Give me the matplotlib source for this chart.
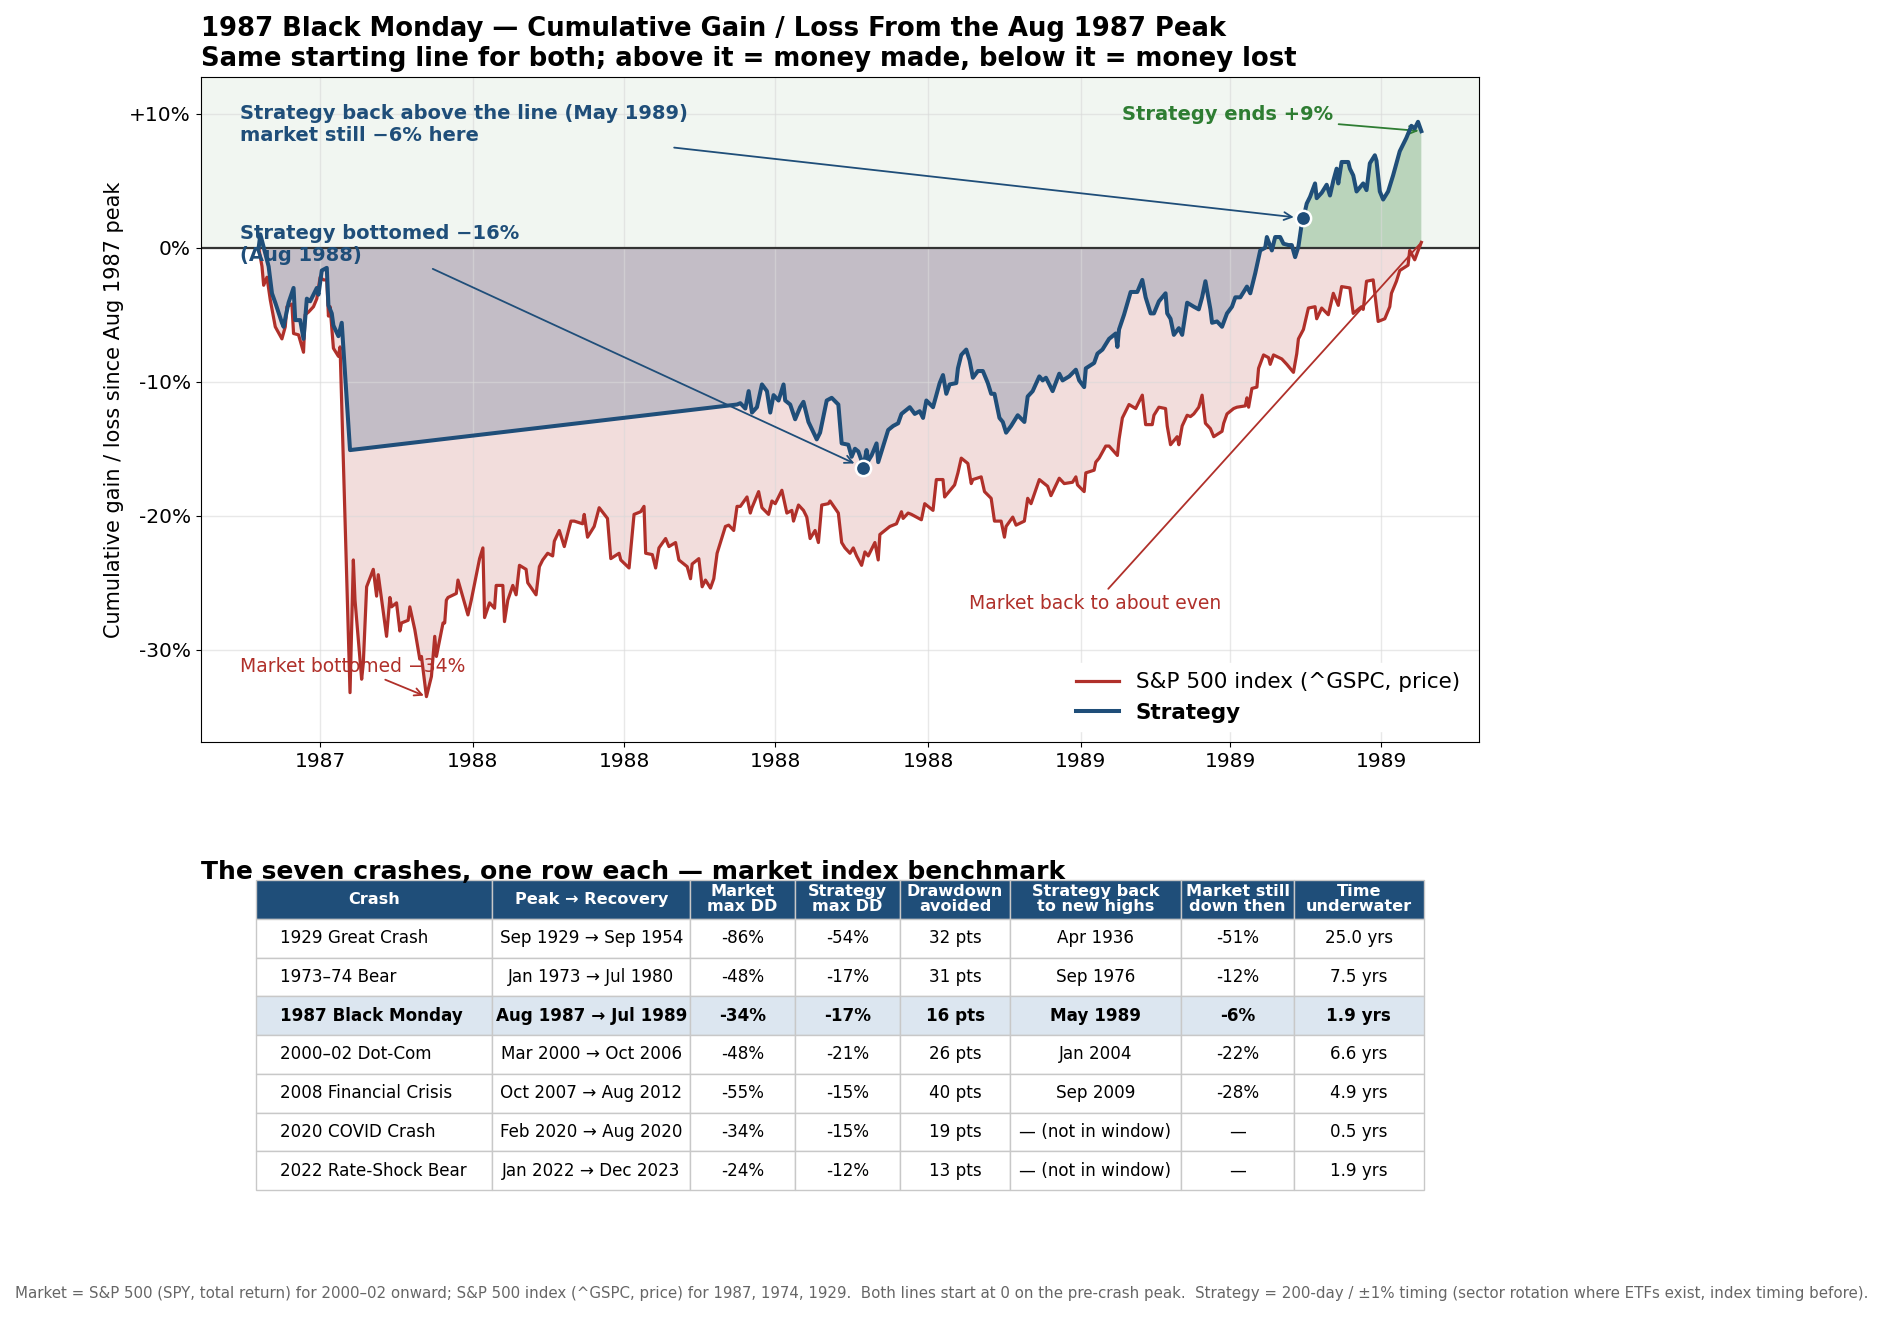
import pandas as pd
import numpy as np
import matplotlib
matplotlib.use("Agg")
import matplotlib.pyplot as plt
import matplotlib.dates as mdates
from matplotlib.ticker import FuncFormatter, MultipleLocator
from matplotlib.table import Table

NAVY = '#1f4e79'
RED = '#b0302a'
GREEN = '#2e7d32'

# market (S&P 500 price) cumulative % from Aug 1987 peak
mkt_dates = [
    '1987-08-25', '1987-08-27', '1987-08-28', '1987-08-30', '1987-09-01', '1987-09-04', '1987-09-08', '1987-09-10',
    '1987-09-11', '1987-09-14', '1987-09-15', '1987-09-18', '1987-09-21', '1987-09-22', '1987-09-24', '1987-09-27',
    '1987-09-29', '1987-10-01', '1987-10-03', '1987-10-05', '1987-10-06', '1987-10-07', '1987-10-09', '1987-10-12',
    '1987-10-13', '1987-10-19', '1987-10-21', '1987-10-22', '1987-10-26', '1987-10-27', '1987-10-29', '1987-11-02',
    '1987-11-04', '1987-11-05', '1987-11-10', '1987-11-12', '1987-11-13', '1987-11-16', '1987-11-18', '1987-11-19',
    '1987-11-23', '1987-11-24', '1987-11-27', '1987-11-30', '1987-12-01', '1987-12-04', '1987-12-07', '1987-12-09',
    '1987-12-10', '1987-12-14', '1987-12-15', '1987-12-16', '1987-12-17', '1987-12-22', '1987-12-23', '1987-12-29',
    '1987-12-31', '1988-01-05', '1988-01-07', '1988-01-08', '1988-01-11', '1988-01-14', '1988-01-15', '1988-01-19',
    '1988-01-20', '1988-01-22', '1988-01-25', '1988-01-27', '1988-01-29', '1988-02-02', '1988-02-03', '1988-02-08',
    '1988-02-10', '1988-02-12', '1988-02-15', '1988-02-18', '1988-02-19', '1988-02-22', '1988-02-25', '1988-02-29',
    '1988-03-02', '1988-03-07', '1988-03-08', '1988-03-10', '1988-03-14', '1988-03-17', '1988-03-22', '1988-03-24',
    '1988-03-29', '1988-03-30', '1988-04-04', '1988-04-07', '1988-04-11', '1988-04-13', '1988-04-14', '1988-04-18',
    '1988-04-20', '1988-04-22', '1988-04-26', '1988-04-28', '1988-05-02', '1988-05-04', '1988-05-09', '1988-05-11',
    '1988-05-12', '1988-05-16', '1988-05-18', '1988-05-20', '1988-05-23', '1988-05-25', '1988-05-27', '1988-06-01',
    '1988-06-03', '1988-06-06', '1988-06-08', '1988-06-10', '1988-06-14', '1988-06-16', '1988-06-17', '1988-06-21',
    '1988-06-23', '1988-06-27', '1988-06-29', '1988-07-01', '1988-07-05', '1988-07-08', '1988-07-11', '1988-07-12',
    '1988-07-15', '1988-07-18', '1988-07-20', '1988-07-22', '1988-07-25', '1988-07-27', '1988-07-29', '1988-08-02',
    '1988-08-03', '1988-08-08', '1988-08-10', '1988-08-12', '1988-08-15', '1988-08-17', '1988-08-19', '1988-08-22',
    '1988-08-24', '1988-08-26', '1988-08-30', '1988-09-01', '1988-09-02', '1988-09-08', '1988-09-12', '1988-09-15',
    '1988-09-16', '1988-09-19', '1988-09-21', '1988-09-27', '1988-09-29', '1988-10-04', '1988-10-06', '1988-10-10',
    '1988-10-11', '1988-10-17', '1988-10-19', '1988-10-21', '1988-10-25', '1988-10-27', '1988-10-28', '1988-11-02',
    '1988-11-04', '1988-11-08', '1988-11-10', '1988-11-14', '1988-11-16', '1988-11-17', '1988-11-21', '1988-11-23',
    '1988-11-28', '1988-11-30', '1988-12-02', '1988-12-07', '1988-12-12', '1988-12-14', '1988-12-19', '1988-12-22',
    '1988-12-27', '1988-12-29', '1988-12-30', '1989-01-03', '1989-01-04', '1989-01-09', '1989-01-10', '1989-01-12',
    '1989-01-16', '1989-01-18', '1989-01-23', '1989-01-24', '1989-01-26', '1989-01-30', '1989-02-03', '1989-02-07',
    '1989-02-09', '1989-02-13', '1989-02-14', '1989-02-17', '1989-02-21', '1989-02-22', '1989-02-24', '1989-02-28',
    '1989-03-01', '1989-03-03', '1989-03-06', '1989-03-08', '1989-03-10', '1989-03-13', '1989-03-15', '1989-03-17',
    '1989-03-20', '1989-03-22', '1989-03-27', '1989-03-28', '1989-03-30', '1989-04-03', '1989-04-05', '1989-04-10',
    '1989-04-11', '1989-04-12', '1989-04-14', '1989-04-17', '1989-04-18', '1989-04-21', '1989-04-24', '1989-04-25',
    '1989-04-27', '1989-05-02', '1989-05-05', '1989-05-09', '1989-05-11', '1989-05-12', '1989-05-15', '1989-05-18',
    '1989-05-22', '1989-05-23', '1989-05-26', '1989-05-30', '1989-06-02', '1989-06-05', '1989-06-07', '1989-06-12',
    '1989-06-14', '1989-06-19', '1989-06-20', '1989-06-22', '1989-06-26', '1989-06-27', '1989-06-29', '1989-07-03',
    '1989-07-06', '1989-07-07', '1989-07-10', '1989-07-12', '1989-07-17', '1989-07-18', '1989-07-21', '1989-07-24',
    '1989-07-25',
]
mkt_pct = [
    0.0, -1.4, -2.8, -2.2, -3.9, -5.9, -6.8, -5.9,
    -4.4, -4.2, -6.4, -6.5, -7.8, -5.0, -4.8, -4.4,
    -3.8, -2.2, -2.4, -2.4, -5.1, -4.4, -7.5, -8.1,
    -7.4, -33.2, -23.3, -26.3, -32.2, -31.0, -25.3, -24.0,
    -26.0, -24.4, -29.0, -26.1, -26.8, -26.5, -28.6, -28.0,
    -27.8, -26.8, -28.5, -30.7, -30.5, -33.5, -32.0, -29.0,
    -30.5, -28.0, -28.0, -26.3, -26.1, -25.8, -24.8, -27.4,
    -26.3, -23.2, -22.4, -27.6, -26.5, -26.9, -25.2, -25.2,
    -27.9, -26.3, -25.2, -25.9, -23.7, -24.0, -25.0, -25.9,
    -23.8, -23.3, -22.8, -23.0, -21.9, -21.1, -22.3, -20.4,
    -20.4, -20.6, -19.9, -21.6, -20.8, -19.4, -20.2, -23.2,
    -22.8, -23.3, -23.9, -19.9, -19.7, -19.3, -22.8, -22.9,
    -23.9, -22.4, -21.7, -22.3, -22.0, -23.3, -23.8, -24.7,
    -23.6, -23.2, -25.3, -24.8, -25.4, -24.7, -22.8, -20.8,
    -20.7, -21.1, -19.3, -19.3, -18.6, -19.8, -19.4, -18.2,
    -19.4, -19.9, -18.9, -19.1, -18.1, -19.8, -19.6, -20.4,
    -19.2, -19.6, -20.1, -21.7, -21.1, -22.0, -19.2, -19.1,
    -18.9, -19.8, -22.0, -22.4, -22.8, -22.4, -23.0, -23.7,
    -22.7, -23.0, -22.0, -23.3, -21.4, -20.8, -20.6, -19.7,
    -20.2, -19.8, -19.9, -20.3, -19.1, -19.6, -17.3, -17.3,
    -18.6, -17.7, -16.8, -15.7, -16.1, -17.6, -17.3, -17.1,
    -18.2, -18.7, -20.4, -20.4, -21.6, -20.8, -20.1, -20.7,
    -20.4, -18.7, -19.1, -17.3, -17.8, -18.5, -17.2, -17.6,
    -17.5, -17.1, -17.7, -18.2, -16.8, -16.6, -16.0, -15.7,
    -14.8, -14.8, -15.5, -14.3, -12.7, -11.7, -12.0, -11.0,
    -13.2, -13.2, -12.5, -11.9, -12.0, -13.3, -14.7, -14.1,
    -14.7, -13.3, -12.5, -12.6, -12.4, -11.9, -11.0, -13.1,
    -13.5, -14.1, -13.7, -13.1, -12.4, -12.0, -11.9, -11.8,
    -11.2, -11.9, -10.5, -10.4, -9.0, -8.0, -8.2, -8.7,
    -8.0, -8.3, -8.7, -9.3, -7.9, -6.8, -6.1, -4.5,
    -4.4, -5.3, -4.5, -5.0, -3.4, -4.3, -2.9, -3.0,
    -4.9, -4.4, -4.6, -2.5, -2.4, -3.4, -5.5, -5.3,
    -4.4, -3.4, -2.5, -1.7, -1.3, -0.2, -0.9, 0.1,
    0.4,
]

# strategy cumulative % (no points between Oct 19 1987 and Jun 8 1988)
strat_dates = [
    '1987-08-25', '1987-08-26', '1987-08-31', '1987-09-02', '1987-09-04', '1987-09-08', '1987-09-09', '1987-09-12',
    '1987-09-15', '1987-09-16', '1987-09-19', '1987-09-21', '1987-09-23', '1987-09-25', '1987-09-29', '1987-09-30',
    '1987-10-02', '1987-10-05', '1987-10-06', '1987-10-08', '1987-10-09', '1987-10-12', '1987-10-14', '1987-10-19',
    '1988-06-08', '1988-06-10', '1988-06-13', '1988-06-15', '1988-06-17', '1988-06-20', '1988-06-23', '1988-06-26',
    '1988-06-28', '1988-06-30', '1988-07-03', '1988-07-06', '1988-07-07', '1988-07-10', '1988-07-13', '1988-07-16',
    '1988-07-18', '1988-07-21', '1988-07-26', '1988-07-28', '1988-08-01', '1988-08-04', '1988-08-08', '1988-08-10',
    '1988-08-14', '1988-08-16', '1988-08-18', '1988-08-20', '1988-08-22', '1988-08-23', '1988-08-25', '1988-08-26',
    '1988-08-28', '1988-08-31', '1988-09-01', '1988-09-07', '1988-09-10', '1988-09-13', '1988-09-15', '1988-09-18',
    '1988-09-20', '1988-09-23', '1988-09-26', '1988-09-28', '1988-09-30', '1988-10-04', '1988-10-08', '1988-10-10',
    '1988-10-12', '1988-10-14', '1988-10-18', '1988-10-19', '1988-10-21', '1988-10-24', '1988-10-26', '1988-10-28',
    '1988-10-31', '1988-11-03', '1988-11-06', '1988-11-08', '1988-11-10', '1988-11-13', '1988-11-15', '1988-11-17',
    '1988-11-20', '1988-11-24', '1988-11-28', '1988-11-30', '1988-12-03', '1988-12-07', '1988-12-09', '1988-12-11',
    '1988-12-15', '1988-12-19', '1988-12-21', '1988-12-25', '1988-12-29', '1988-12-31', '1989-01-03', '1989-01-04',
    '1989-01-09', '1989-01-11', '1989-01-14', '1989-01-18', '1989-01-22', '1989-01-23', '1989-01-24', '1989-01-27',
    '1989-01-31', '1989-02-04', '1989-02-07', '1989-02-09', '1989-02-12', '1989-02-14', '1989-02-17', '1989-02-21',
    '1989-02-22', '1989-02-24', '1989-02-26', '1989-03-01', '1989-03-03', '1989-03-06', '1989-03-10', '1989-03-13',
    '1989-03-15', '1989-03-17', '1989-03-20', '1989-03-21', '1989-03-24', '1989-03-27', '1989-03-30', '1989-04-02',
    '1989-04-04', '1989-04-07', '1989-04-11', '1989-04-13', '1989-04-16', '1989-04-19', '1989-04-22', '1989-04-23',
    '1989-04-26', '1989-04-28', '1989-05-01', '1989-05-03', '1989-05-06', '1989-05-08', '1989-05-10', '1989-05-12',
    '1989-05-14', '1989-05-15', '1989-05-17', '1989-05-19', '1989-05-22', '1989-05-23', '1989-05-26', '1989-05-29',
    '1989-05-31', '1989-06-02', '1989-06-04', '1989-06-05', '1989-06-07', '1989-06-11', '1989-06-12', '1989-06-14',
    '1989-06-16', '1989-06-18', '1989-06-20', '1989-06-22', '1989-06-24', '1989-06-27', '1989-06-28', '1989-06-30',
    '1989-07-02', '1989-07-05', '1989-07-08', '1989-07-12', '1989-07-14', '1989-07-16', '1989-07-19', '1989-07-21',
    '1989-07-23', '1989-07-25',
]
strat_pct = [
    0.0, 1.0, -1.4, -3.4, -4.1, -5.6, -5.9, -4.1,
    -3.0, -5.4, -5.4, -6.8, -3.8, -4.0, -3.0, -3.5,
    -1.7, -1.5, -4.3, -4.9, -5.8, -6.6, -5.6, -15.1,
    -11.7, -11.6, -12.0, -10.7, -12.3, -11.9, -10.2, -10.7,
    -12.3, -11.0, -11.4, -10.2, -11.4, -11.7, -12.8, -11.9,
    -11.5, -13.0, -14.3, -13.8, -11.4, -11.2, -11.7, -14.6,
    -14.7, -15.6, -15.0, -15.2, -15.9, -16.4, -15.1, -15.9,
    -15.5, -14.6, -16.0, -13.6, -13.3, -13.1, -12.4, -12.1,
    -11.9, -12.4, -12.2, -12.7, -11.4, -11.9, -10.1, -9.5,
    -10.9, -10.2, -10.1, -9.0, -8.0, -7.6, -8.4, -9.7,
    -9.2, -9.2, -10.1, -10.9, -10.9, -12.7, -13.0, -13.8,
    -13.3, -12.5, -13.0, -11.1, -10.7, -9.6, -9.9, -9.7,
    -10.7, -9.4, -9.9, -9.6, -9.1, -9.9, -10.4, -9.0,
    -8.6, -7.9, -7.6, -6.8, -6.4, -7.4, -6.1, -5.0,
    -3.3, -3.3, -2.4, -3.7, -4.9, -4.9, -4.0, -3.4,
    -4.9, -5.3, -6.5, -6.0, -6.5, -4.1, -4.4, -4.6,
    -3.7, -2.5, -4.6, -5.6, -5.5, -5.9, -4.9, -4.4,
    -3.7, -3.7, -2.9, -3.4, -1.9, -0.2, 0.0, 0.8,
    -0.2, 0.8, 0.8, 0.3, 0.2, 0.2, -0.7, 0.1,
    1.8, 2.2, 3.3, 3.8, 4.8, 3.7, 4.1, 4.7,
    3.9, 5.0, 5.9, 4.8, 6.4, 6.4, 5.9, 5.4,
    4.2, 4.5, 4.8, 4.3, 6.3, 6.9, 6.5, 4.2,
    3.6, 4.2, 5.4, 7.2, 7.7, 8.2, 9.1, 8.9,
    9.4, 8.7,
]
cross_date = '1989-05-15'   # strategy back above the start line

# table of the seven crashes
crash_names = ['1929 Great Crash', '1973–74 Bear', '1987 Black Monday', '2000–02 Dot-Com',
               '2008 Financial Crisis', '2020 COVID Crash', '2022 Rate-Shock Bear']
peak_recovery = ['Sep 1929 → Sep 1954', 'Jan 1973 → Jul 1980', 'Aug 1987 → Jul 1989', 'Mar 2000 → Oct 2006',
                 'Oct 2007 → Aug 2012', 'Feb 2020 → Aug 2020', 'Jan 2022 → Dec 2023']
market_max_dd = [-86, -48, -34, -48, -55, -34, -24]
strategy_max_dd = [-54, -17, -17, -21, -15, -15, -12]
dd_avoided = [32, 31, 16, 26, 40, 19, 13]
strategy_back = ['Apr 1936', 'Sep 1976', 'May 1989', 'Jan 2004', 'Sep 2009',
                 '— (not in window)', '— (not in window)']
market_then = [-51, -12, -6, -22, -28, None, None]
years_underwater = [25.0, 7.5, 1.9, 6.6, 4.9, 0.5, 1.9]
col_headers = ['Crash', 'Peak → Recovery', 'Market\nmax DD', 'Strategy\nmax DD', 'Drawdown\navoided',
               'Strategy back\nto new highs', 'Market still\ndown then', 'Time\nunderwater']
highlight_row = 2

md = pd.to_datetime(mkt_dates)
mv = np.array(mkt_pct)
sd = pd.to_datetime(strat_dates)
sv = np.array(strat_pct)

fig = plt.figure(figsize=(18.83, 13.19), dpi=100)
ax = fig.add_axes([0.1065, 0.4373, 0.6792, 0.5044])

# shading: gains zone, market under water, strategy under / above water
ax.axhspan(0, 20, color=GREEN, alpha=0.065, lw=0, zorder=0)
ax.fill_between(md, mv, 0, color=RED, alpha=0.16, lw=0, zorder=1)
ax.fill_between(sd, sv, 0, where=sv <= 0, interpolate=True, color=NAVY, alpha=0.22, lw=0, zorder=1)
ax.fill_between(sd, sv, 0, where=sv >= 0, interpolate=True, color=GREEN, alpha=0.28, lw=0, zorder=1)

ax.plot(md, mv, color=RED, lw=2.3, label='S&P 500 index (^GSPC, price)', zorder=3)
ax.plot(sd, sv, color=NAVY, lw=2.9, label='Strategy', zorder=4)
ax.axhline(0, color='#333333', lw=1.6, zorder=2)
ax.grid(True, color='#d9d9d9', lw=1.0, alpha=0.6)

i_low = int(np.argmin(sv))
i_cross = strat_dates.index(cross_date)
i_mlow = int(np.argmin(mv))
for i in (i_low, i_cross):
    ax.plot(sd[i], sv[i], 'o', color=NAVY, ms=11, mec='white', mew=1.8, zorder=6)

arrow_navy = dict(arrowstyle='->', color=NAVY, lw=1.3)
ax.annotate('Strategy back above the line (May 1989)\nmarket still \u22126% here',
            xy=(sd[i_cross], sv[i_cross]), xytext=(0.031, 0.960), textcoords='axes fraction',
            ha='left', va='top', fontsize=14, fontweight='bold', color=NAVY,
            arrowprops=dict(arrow_navy, shrinkB=7))
ax.annotate('Strategy bottomed \u221216%\n(Aug 1988)',
            xy=(sd[i_low], sv[i_low]), xytext=(0.031, 0.779), textcoords='axes fraction',
            ha='left', va='top', fontsize=14, fontweight='bold', color=NAVY,
            arrowprops=dict(arrow_navy, shrinkB=7))
ax.annotate('Strategy ends +9%', xy=(sd[-1], sv[-1]), xytext=(0.803, 0.943), textcoords='axes fraction',
            ha='center', va='center', fontsize=14, fontweight='bold', color=GREEN,
            arrowprops=dict(arrowstyle='->', color=GREEN, lw=1.3))
ax.annotate('Market bottomed \u221234%', xy=(md[i_mlow], mv[i_mlow]), xytext=(0.031, 0.114),
            textcoords='axes fraction', ha='left', va='center', fontsize=13.5, color=RED,
            arrowprops=dict(arrowstyle='->', color=RED, lw=1.3))
ax.annotate('Market back to about even', xy=(md[-1], mv[-1]), xytext=(0.601, 0.209),
            textcoords='axes fraction', ha='left', va='center', fontsize=13.5, color=RED,
            arrowprops=dict(arrowstyle='-', color=RED, lw=1.3))

ax.set_ylim(-36.9, 12.75)
ax.yaxis.set_major_locator(MultipleLocator(10))
ax.yaxis.set_major_formatter(FuncFormatter(lambda v, p: '0%' if abs(v) < 1e-9 else (f'+{v:.0f}%' if v > 0 else f'{v:.0f}%')))
ax.xaxis.set_major_locator(mdates.MonthLocator(bymonth=[1, 4, 7, 10]))
ax.xaxis.set_major_formatter(mdates.DateFormatter('%Y'))
ax.tick_params(labelsize=14.5)
ax.set_ylabel('Cumulative gain / loss since Aug 1987 peak', fontsize=15)
ax.set_title('1987 Black Monday \u2014 Cumulative Gain / Loss From the Aug 1987 Peak\n'
             'Same starting line for both; above it = money made, below it = money lost',
             loc='left', fontsize=18.6, fontweight='bold', pad=8)

leg = ax.legend(loc='lower right', fontsize=15.5, frameon=True, facecolor='white', edgecolor='white',
                framealpha=1.0)
leg.get_texts()[1].set_fontweight('bold')

# table
fig.text(0.1065, 0.3295, 'The seven crashes, one row each \u2014 market index benchmark',
         fontsize=18.0, fontweight='bold', va='bottom', ha='left')
tax = fig.add_axes([0.136, 0.0978, 0.62, 0.2350])
tax.axis('off')
col_w = np.array([197, 165, 87, 88, 91, 143, 94, 108], dtype=float)
col_w = col_w / col_w.sum()

rows = []
for k in range(len(crash_names)):
    rows.append([crash_names[k], peak_recovery[k], f'{market_max_dd[k]}%', f'{strategy_max_dd[k]}%',
                 f'{dd_avoided[k]} pts', strategy_back[k],
                 '\u2014' if market_then[k] is None else f'{market_then[k]}%',
                 f'{years_underwater[k]:.1f} yrs'])

tbl = Table(tax, bbox=[0, 0, 1, 1])
n_rows = len(rows) + 1
h = 1.0 / n_rows
for c, head in enumerate(col_headers):
    cell = tbl.add_cell(0, c, col_w[c], h, text=head, loc='center', facecolor=NAVY, edgecolor='#c8c8c8')
    cell.get_text().set_color('white')
    cell.get_text().set_fontweight('bold')
    cell.get_text().set_fontsize(11.6)
    cell.get_text().set_linespacing(1.0)
for r, row in enumerate(rows, start=1):
    fc = '#dce6f0' if r - 1 == highlight_row else 'white'
    for c, val in enumerate(row):
        cell = tbl.add_cell(r, c, col_w[c], h, text=val, loc='left' if c == 0 else 'center',
                            facecolor=fc, edgecolor='#c8c8c8')
        cell.get_text().set_fontsize(12.1)
        if r - 1 == highlight_row:
            cell.get_text().set_fontweight('bold')
tbl.auto_set_font_size(False)
tax.add_table(tbl)

fig.text(0.5, 0.019, 'Market = S&P 500 (SPY, total return) for 2000\u201302 onward; S&P 500 index (^GSPC, price) '
         'for 1987, 1974, 1929.  Both lines start at 0 on the pre-crash peak.  Strategy = 200-day / \u00b11% '
         'timing (sector rotation where ETFs exist, index timing before).',
         ha='center', va='center', fontsize=10.8, color='#666666')

fig.savefig('out.png', dpi=100)
